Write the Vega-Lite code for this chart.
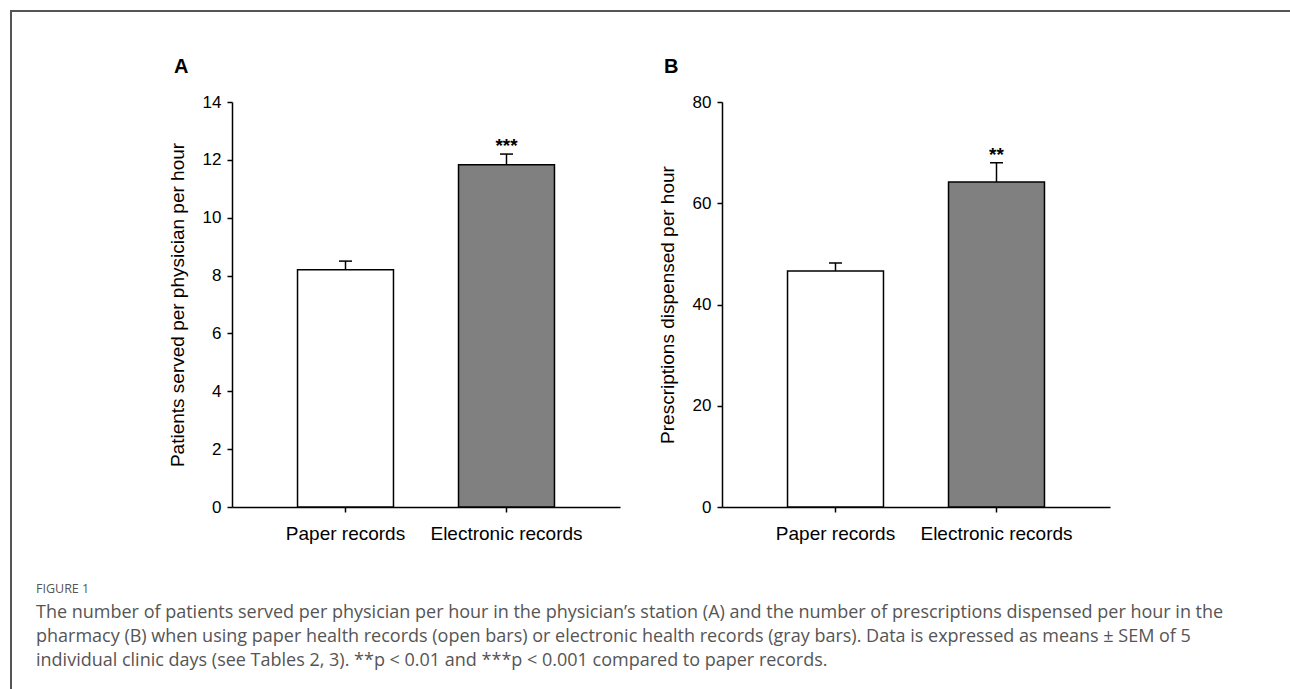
{
  "$schema": "https://vega.github.io/schema/vega-lite/v6.json",
  "padding": {"left": 10, "top": 10, "right": 0, "bottom": 0},
  "background": "white",
  "bounds": "flush",
  "spacing": 0,
  "config": {
    "view": {"stroke": null},
    "axis": {"grid": false},
    "font": "Liberation Sans"
  },
  "hconcat": [
    {"width": 2, "height": 679, "view": {"fill": "#555555", "stroke": null}, "data": {"values": []}, "mark": "text"},
    {
      "bounds": "flush",
      "spacing": 90,
      "vconcat": [
        {"width": 1278, "height": 2, "view": {"fill": "#555555", "stroke": null}, "data": {"values": []}, "mark": "text"},
        {
          "bounds": "flush",
          "align": "each",
          "columns": 3,
          "spacing": {"row": 42, "column": 102},
          "concat": [
            {"width": 118, "height": 405, "data": {"values": []}, "mark": "text"},
            {
              "width": 388,
              "height": 405,
              "title": {"text": "A", "anchor": "start", "frame": "group", "dx": -58, "offset": 0, "baseline": "alphabetic", "fontSize": 20, "fontWeight": "bold", "font": "Liberation Sans", "color": "black"},
              "data": {"values": [
                {"group": "Paper records", "mean": 8.2, "upper": 8.5, "sig": ""},
                {"group": "Electronic records", "mean": 11.83, "upper": 12.2, "sig": "***"}
              ]},
              "encoding": {
                "x": {"field": "group", "type": "nominal", "sort": null,
                  "scale": {"paddingInner": 0.404, "paddingOuter": 0.407},
                  "axis": {"title": null, "labelAngle": 0, "tickSize": 5, "tickColor": "black", "tickWidth": 1.5, "domainColor": "black", "domainWidth": 1.5, "labelFont": "Liberation Sans", "labelFontSize": 19, "labelColor": "black", "labelPadding": 12}}
              },
              "layer": [
                {"mark": {"type": "bar", "stroke": "black", "strokeWidth": 1.5},
                 "encoding": {
                   "y": {"field": "mean", "type": "quantitative", "scale": {"domain": [0, 14]},
                     "axis": {"values": [0, 2, 4, 6, 8, 10, 12, 14], "title": "Patients served per physician per hour", "tickSize": 5, "tickColor": "black", "tickWidth": 1.5, "domainColor": "black", "domainWidth": 1.5, "labelFont": "Liberation Sans", "labelFontSize": 17, "labelColor": "black", "labelPadding": 6, "titleFont": "Liberation Sans", "titleFontSize": 19, "titleFontWeight": "normal", "titleColor": "black", "titlePadding": 15}},
                   "fill": {"field": "group", "type": "nominal", "scale": {"domain": ["Paper records", "Electronic records"], "range": ["white", "#808080"]}, "legend": null}
                 }},
                {"mark": {"type": "rule", "strokeWidth": 1.5, "color": "black"},
                 "encoding": {"y": {"field": "mean", "type": "quantitative"}, "y2": {"field": "upper"}}},
                {"mark": {"type": "tick", "size": 13, "thickness": 1.5, "color": "black", "opacity": 1},
                 "encoding": {"y": {"field": "upper", "type": "quantitative"}}},
                {"mark": {"type": "text", "baseline": "alphabetic", "dy": -2, "fontSize": 19, "fontWeight": "bold", "font": "Liberation Sans", "color": "black"},
                 "encoding": {"y": {"field": "upper", "type": "quantitative"}, "text": {"field": "sig"}}}
              ]
            },
            {
              "width": 388,
              "height": 405,
              "title": {"text": "B", "anchor": "start", "frame": "group", "dx": -58, "offset": 0, "baseline": "alphabetic", "fontSize": 20, "fontWeight": "bold", "font": "Liberation Sans", "color": "black"},
              "data": {"values": [
                {"group": "Paper records", "mean": 46.6, "upper": 48.2, "sig": ""},
                {"group": "Electronic records", "mean": 64.2, "upper": 68.0, "sig": "**"}
              ]},
              "encoding": {
                "x": {"field": "group", "type": "nominal", "sort": null,
                  "scale": {"paddingInner": 0.404, "paddingOuter": 0.407},
                  "axis": {"title": null, "labelAngle": 0, "tickSize": 5, "tickColor": "black", "tickWidth": 1.5, "domainColor": "black", "domainWidth": 1.5, "labelFont": "Liberation Sans", "labelFontSize": 19, "labelColor": "black", "labelPadding": 12}}
              },
              "layer": [
                {"mark": {"type": "bar", "stroke": "black", "strokeWidth": 1.5},
                 "encoding": {
                   "y": {"field": "mean", "type": "quantitative", "scale": {"domain": [0, 80]},
                     "axis": {"values": [0, 20, 40, 60, 80], "title": "Prescriptions dispensed per hour", "tickSize": 5, "tickColor": "black", "tickWidth": 1.5, "domainColor": "black", "domainWidth": 1.5, "labelFont": "Liberation Sans", "labelFontSize": 17, "labelColor": "black", "labelPadding": 6, "titleFont": "Liberation Sans", "titleFontSize": 19, "titleFontWeight": "normal", "titleColor": "black", "titlePadding": 15}},
                   "fill": {"field": "group", "type": "nominal", "scale": {"domain": ["Paper records", "Electronic records"], "range": ["white", "#808080"]}, "legend": null}
                 }},
                {"mark": {"type": "rule", "strokeWidth": 1.5, "color": "black"},
                 "encoding": {"y": {"field": "mean", "type": "quantitative"}, "y2": {"field": "upper"}}},
                {"mark": {"type": "tick", "size": 13, "thickness": 1.5, "color": "black", "opacity": 1},
                 "encoding": {"y": {"field": "upper", "type": "quantitative"}}},
                {"mark": {"type": "text", "baseline": "alphabetic", "dy": -2, "fontSize": 19, "fontWeight": "bold", "font": "Liberation Sans", "color": "black"},
                 "encoding": {"y": {"field": "upper", "type": "quantitative"}, "text": {"field": "sig"}}}
              ]
            },
            {
              "width": 118,
              "height": 0,
              "data": {"values": []},
              "mark": "text",
              "title": {
                "text": "FIGURE 1",
                "subtitle": [
                  "The number of patients served per physician per hour in the physician’s station (A) and the number of prescriptions dispensed per hour in the",
                  "pharmacy (B) when using paper health records (open bars) or electronic health records (gray bars). Data is expressed as means ± SEM of 5",
                  "individual clinic days (see Tables 2, 3). **p < 0.01 and ***p < 0.001 compared to paper records."
                ],
                "orient": "bottom",
                "anchor": "start",
                "frame": "group",
                "limit": 1290,
                "dx": 24,
                "offset": 14,
                "font": "Open Sans",
                "fontSize": 12.5,
                "fontWeight": "normal",
                "color": "#555555",
                "subtitleFont": "Open Sans",
                "subtitleFontSize": 18,
                "subtitleColor": "#555555",
                "subtitleLineHeight": 24,
                "subtitlePadding": 8
              }
            }
          ]
        }
      ]
    }
  ]
}
